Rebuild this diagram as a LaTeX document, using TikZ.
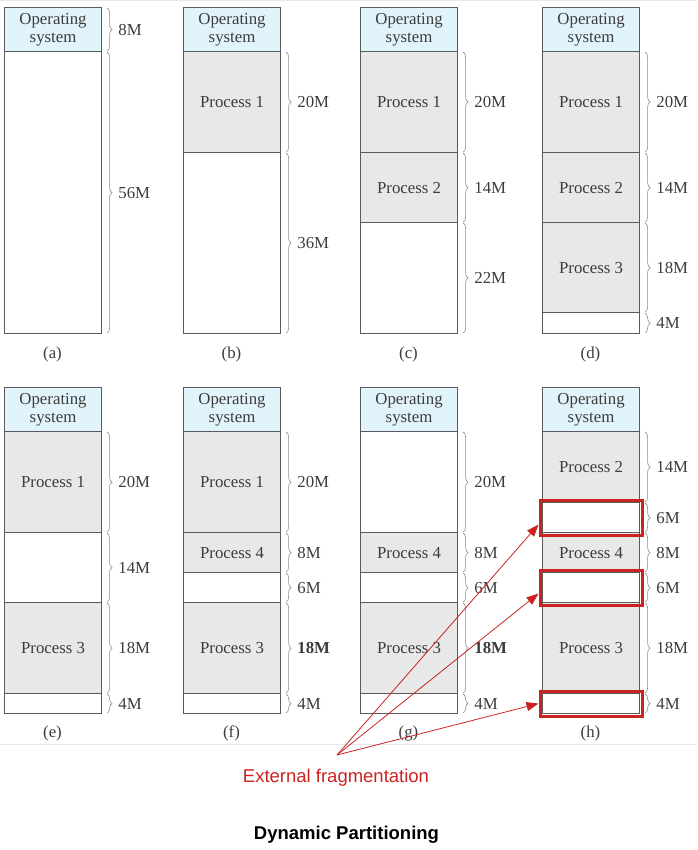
\documentclass[tikz,border=0pt]{standalone}
\usepackage{fontspec}
\setmainfont{Liberation Serif}
\newfontfamily\sansf{Liberation Sans}
\usetikzlibrary{decorations.pathreplacing,arrows.meta,fit}
\definecolor{bord}{HTML}{5A5A5A}
\definecolor{osfill}{HTML}{E2F4FB}
\definecolor{procfill}{HTML}{E8E8E8}
\definecolor{txtgray}{HTML}{3C3C3C}
\definecolor{brgray}{HTML}{8C8C8C}
\definecolor{redc}{HTML}{CC2222}
\definecolor{sepc}{HTML}{E8E8E8}
\newcommand\segb[7]{%
  \node[#5, minimum height={#4-#3}, anchor=north west] (#1) at (#2,#3) {#6};
  \draw[brc] ([xshift=5pt,yshift=-1pt]#1.north east) -- ([xshift=5pt,yshift=1pt]#1.south east)
     node[midway, anchor=west, xshift=10pt, inner sep=1pt, text=txtgray] {#7};
}
\newcommand\segn[6]{%
  \node[#5, minimum height={#4-#3}, anchor=north west] (#1) at (#2,#3) {#6};
}
\begin{document}
\begin{tikzpicture}[x=1pt,y=-1pt,
  seg/.style={draw=bord, line width=1.1pt, minimum width=97, inner sep=0pt,
    align=center, text=txtgray, font=\fontsize{16.8}{17.5}\selectfont},
  os/.style={seg, fill=osfill},
  proc/.style={seg, fill=procfill},
  hole/.style={seg, fill=white},
  brc/.style={draw=brgray, line width=0.6pt, decorate,
    decoration={brace, amplitude=5pt}},
  every node/.append style={font=\fontsize{16.8}{17.5}\selectfont},
  sublabel/.style={text=txtgray},
  redbox/.style={draw=redc, line width=3pt, inner sep=2pt},
  redarr/.style={draw=redc, line width=0.8pt, -{Triangle[length=12pt,width=9pt]}},
  sepline/.style={draw=sepc, line width=0.8pt}]
\useasboundingbox (0,0) rectangle (697,850);
\draw[sepline] (0,0.5) -- (697,0.5);
\draw[sepline] (0,744) -- (697,744);
% (a)
\segb{aos}{4}{7}{51}{os}{Operating\\system}{8M}
\segb{af}{4}{51}{333}{hole}{}{56M}
\node[sublabel] (la) at (52.5,354) {(a)};
% (b)
\segn{bos}{183}{7}{51}{os}{Operating\\system}
\segb{bp1}{183}{51}{152}{proc}{Process 1}{20M}
\segb{bf}{183}{152}{333}{hole}{}{36M}
\node[sublabel] (lb) at (231.5,354) {(b)};
% (c)
\segn{cos}{360}{7}{51}{os}{Operating\\system}
\segb{cp1}{360}{51}{152}{proc}{Process 1}{20M}
\segb{cp2}{360}{152}{222}{proc}{Process 2}{14M}
\segb{cf}{360}{222}{333}{hole}{}{22M}
\node[sublabel] (lc) at (408.5,354) {(c)};
% (d)
\segn{dos}{542}{7}{51}{os}{Operating\\system}
\segb{dp1}{542}{51}{152}{proc}{Process 1}{20M}
\segb{dp2}{542}{152}{222}{proc}{Process 2}{14M}
\segb{dp3}{542}{222}{312}{proc}{Process 3}{18M}
\segb{df}{542}{312}{333}{hole}{}{4M}
\node[sublabel] (ld) at (590.5,354) {(d)};
% (e)
\segn{eos}{4}{387}{431}{os}{Operating\\system}
\segb{ep1}{4}{431}{532}{proc}{Process 1}{20M}
\segb{ef1}{4}{532}{602}{hole}{}{14M}
\segb{ep3}{4}{602}{693}{proc}{Process 3}{18M}
\segb{ef2}{4}{693}{713}{hole}{}{4M}
\node[sublabel] (le) at (52.5,733) {(e)};
% (f)
\segn{fos}{183}{387}{431}{os}{Operating\\system}
\segb{fp1}{183}{431}{532}{proc}{Process 1}{20M}
\segb{fp4}{183}{532}{572}{proc}{Process 4}{8M}
\segb{ff1}{183}{572}{602}{hole}{}{6M}
\segb{fp3}{183}{602}{693}{proc}{Process 3}{\bfseries 18M}
\segb{ff2}{183}{693}{713}{hole}{}{4M}
\node[sublabel] (lf) at (231.5,733) {(f)};
% (g)
\segn{gos}{360}{387}{431}{os}{Operating\\system}
\segb{gf0}{360}{431}{532}{hole}{}{20M}
\segb{gp4}{360}{532}{572}{proc}{Process 4}{8M}
\segb{gf1}{360}{572}{602}{hole}{}{6M}
\segb{gp3}{360}{602}{693}{proc}{Process 3}{\bfseries 18M}
\segb{gf2}{360}{693}{713}{hole}{}{4M}
\node[sublabel] (lg) at (408.5,733) {(g)};
% (h)
\segn{hos}{542}{387}{431}{os}{Operating\\system}
\segb{hp2}{542}{431}{502}{proc}{Process 2}{14M}
\segb{hf0}{542}{502}{532}{hole}{}{6M}
\segb{hp4}{542}{532}{572}{proc}{Process 4}{8M}
\segb{hf1}{542}{572}{602}{hole}{}{6M}
\segb{hp3}{542}{602}{693}{proc}{Process 3}{18M}
\segb{hf2}{542}{693}{713}{hole}{}{4M}
\node[sublabel] (lh) at (590.5,733) {(h)};
% highlights
\node[redbox, fit=(hf0)] (r1) {};
\node[redbox, fit=(hf1)] (r2) {};
\node[redbox, fit=(hf2)] (r3) {};
\coordinate (src) at (337,755);
\draw[redarr] (src) -- ([yshift=-7pt]r1.west);
\draw[redarr] (src) -- ([yshift=-6pt]r2.west);
\draw[redarr] (src) -- (r3.west);
\node[text=redc, font=\sansf\fontsize{18.5}{20}\selectfont] (ext) at (336,778) {External fragmentation};
\node[text=black, font=\sansf\bfseries\fontsize{18.5}{20}\selectfont] (title) at (346.5,835) {Dynamic Partitioning};
\end{tikzpicture}
\end{document}
